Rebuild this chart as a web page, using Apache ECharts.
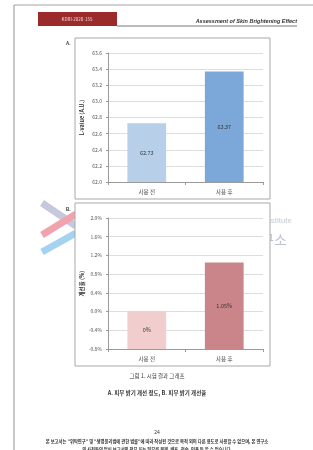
<!DOCTYPE html>
<html>
<head>
<meta charset="utf-8">
<script src="https://cdn.jsdelivr.net/npm/echarts@6/dist/echarts.min.js"></script>
<style>
  html, body { margin: 0; padding: 0; background: #fff; }
  #chart { width: 313px; height: 450px; }
</style>
</head>
<body>
<div id="chart"></div>
<script>
// Chart data
const categories = ['사용 전', '사용 후'];
const lValues = [62.73, 63.37];
const improveRates = [0, 1.05];
const rateAxisMin = -0.8;   // Excel-style baseline: bars grow from the axis bottom

const font = '"Noto Sans CJK KR", "Liberation Sans", sans-serif';
const chart = echarts.init(document.getElementById('chart'));

// Axis settings shared by both panels
function catAxis(gridIndex) {
  return {
    type: 'category',
    gridIndex,
    data: categories,
    axisLine: { lineStyle: { color: '#9a9a9a', width: 1 } },
    axisTick: { show: true, interval: 0, length: 3, alignWithLabel: false, lineStyle: { color: '#9a9a9a' } },
    axisLabel: { fontSize: 5.5, color: '#444', margin: 7, fontFamily: font }
  };
}

function valAxis(gridIndex, opts) {
  return Object.assign({
    type: 'value',
    gridIndex,
    nameLocation: 'middle',
    nameRotate: 90,
    nameGap: 23,
    nameTextStyle: { fontSize: 5.5, color: '#333', fontWeight: 'bold', fontFamily: font },
    axisLine: { show: true, lineStyle: { color: '#9a9a9a', width: 1 } },
    axisTick: { show: true, length: 2, lineStyle: { color: '#9a9a9a' } },
    axisLabel: { fontSize: 5, color: '#555', margin: 6, fontFamily: font },
    splitLine: { lineStyle: { color: '#d4d4d4', width: 0.8 } }
  }, opts);
}

chart.setOption({
  animation: false,
  textStyle: { fontFamily: font },
  grid: [
    { left: 108, right: 50, top: 53, bottom: 268 },
    { left: 108, right: 50, top: 218, bottom: 101 }
  ],
  xAxis: [catAxis(0), catAxis(1)],
  yAxis: [
    valAxis(0, {
      name: 'L-value (A.U.)',
      min: 62.0, max: 63.6, interval: 0.2,
      axisLabel: { fontSize: 5, color: '#555', margin: 6, formatter: v => v.toFixed(1) }
    }),
    valAxis(1, {
      name: '개선율 (%)',
      min: 0, max: 2.8, interval: 0.4,
      axisLabel: { fontSize: 5, color: '#555', margin: 6, formatter: v => (v + rateAxisMin).toFixed(1) + '%' }
    })
  ],
  series: [
    {
      type: 'bar',
      xAxisIndex: 0, yAxisIndex: 0,
      barWidth: '50%',
      data: lValues.map((v, i) => ({
        value: v,
        itemStyle: { color: i === 0 ? '#b8cfea' : '#7ba8d8' }
      })),
      label: { show: true, position: 'inside', fontSize: 5.5, color: '#333', formatter: p => p.value.toFixed(2) }
    },
    {
      type: 'bar',
      xAxisIndex: 1, yAxisIndex: 1,
      barWidth: '50%',
      data: improveRates.map((v, i) => ({
        value: v - rateAxisMin,
        itemStyle: { color: i === 0 ? '#f1cdcd' : '#c98589' }
      })),
      label: {
        show: true, position: 'inside', fontSize: 5.5, color: '#333',
        formatter: p => improveRates[p.dataIndex] + '%'
      }
    }
  ],
  graphic: [
    // page border
    { type: 'line', z: -10, shape: { x1: 14, y1: 5, x2: 313, y2: 5 }, style: { stroke: '#a4a4a4', lineWidth: 1.2 } },
    { type: 'line', z: -10, shape: { x1: 14, y1: 5, x2: 14, y2: 450 }, style: { stroke: '#a4a4a4', lineWidth: 1.2 } },
    // header
    { type: 'rect', z: -10, shape: { x: 38, y: 12, width: 79, height: 14 }, style: { fill: '#9b2a2a' } },
    { type: 'text', z: -9, x: 77, y: 19, style: { text: 'KDRI-2020-155', fill: '#f3dede', fontSize: 4.5, align: 'center', verticalAlign: 'middle', fontFamily: font } },
    { type: 'line', z: -10, shape: { x1: 117, y1: 26, x2: 297, y2: 26 }, style: { stroke: '#555', lineWidth: 0.8 } },
    { type: 'text', z: -9, x: 297, y: 21, style: { text: 'Assessment of Skin Brightening Effect', fill: '#333', fontSize: 5.5, fontStyle: 'italic', fontWeight: 'bold', align: 'right', verticalAlign: 'middle', fontFamily: '"Liberation Sans", sans-serif' } },
    // watermark logo
    { type: 'polyline', z: -20, shape: { points: [[42, 203], [76, 226]] }, style: { stroke: '#c6c8de', lineWidth: 7 } },
    { type: 'polyline', z: -20, shape: { points: [[42, 235], [76, 214]] }, style: { stroke: '#f0a3ad', lineWidth: 7 } },
    { type: 'polyline', z: -20, shape: { points: [[42, 252], [76, 233]] }, style: { stroke: '#a5d3ef', lineWidth: 7 } },
    { type: 'text', z: -20, x: 292, y: 221, style: { text: 'Institute', fill: '#c7cbd6', fontSize: 8, align: 'right', verticalAlign: 'middle', fontFamily: '"Liberation Sans", sans-serif' } },
    { type: 'text', z: -20, x: 287, y: 240, style: { text: '연구소', fill: '#bfc4d2', fontSize: 14, align: 'right', verticalAlign: 'middle', fontFamily: font } },
    // chart boxes
    { type: 'rect', z: -15, shape: { x: 75, y: 38, width: 195, height: 161 }, style: { fill: '#fff', stroke: '#a8a8a8', lineWidth: 1 } },
    { type: 'rect', z: -15, shape: { x: 75, y: 203, width: 195, height: 163 }, style: { fill: '#fff', stroke: '#a8a8a8', lineWidth: 1 } },
    { type: 'text', z: -9, x: 66, y: 44, style: { text: 'A.', fill: '#333', fontSize: 4.5, fontWeight: 'bold', verticalAlign: 'middle' } },
    { type: 'text', z: -9, x: 66, y: 210, style: { text: 'B.', fill: '#333', fontSize: 4.5, fontWeight: 'bold', verticalAlign: 'middle' } },
    // caption
    { type: 'text', z: -9, x: 157, y: 376, style: { text: '그림 1. 시험 결과 그래프', fill: '#333', fontSize: 5.5, align: 'center', verticalAlign: 'middle', fontFamily: font } },
    { type: 'text', z: -9, x: 157, y: 393, style: { text: 'A. 피부 밝기 개선 정도, B. 피부 밝기 개선율', fill: '#333', fontSize: 5.5, fontWeight: 'bold', align: 'center', verticalAlign: 'middle', fontFamily: font } },
    // footer
    { type: 'text', z: -9, x: 157, y: 433, style: { text: '24', fill: '#333', fontSize: 5, align: 'center', verticalAlign: 'middle' } },
    { type: 'text', z: -9, x: 157, y: 441, style: { text: '본 보고서는 "위탁연구" 및 "생명윤리법에 관한 법률"에 따라 작성된 것으로 목적 외의 다른 용도로 사용할 수 없으며, 본 연구소', fill: '#333', fontSize: 4.3, fontWeight: 'bold', align: 'center', verticalAlign: 'middle', fontFamily: font } },
    { type: 'text', z: -9, x: 157, y: 449, style: { text: '의 사전동의 없이 보고서의 전부 또는 일부를 복제, 배포, 전송, 인용 등 할 수 없습니다.', fill: '#333', fontSize: 4.3, fontWeight: 'bold', align: 'center', verticalAlign: 'middle', fontFamily: font } }
  ]
});

window.addEventListener('resize', () => chart.resize());
</script>
</body>
</html>
